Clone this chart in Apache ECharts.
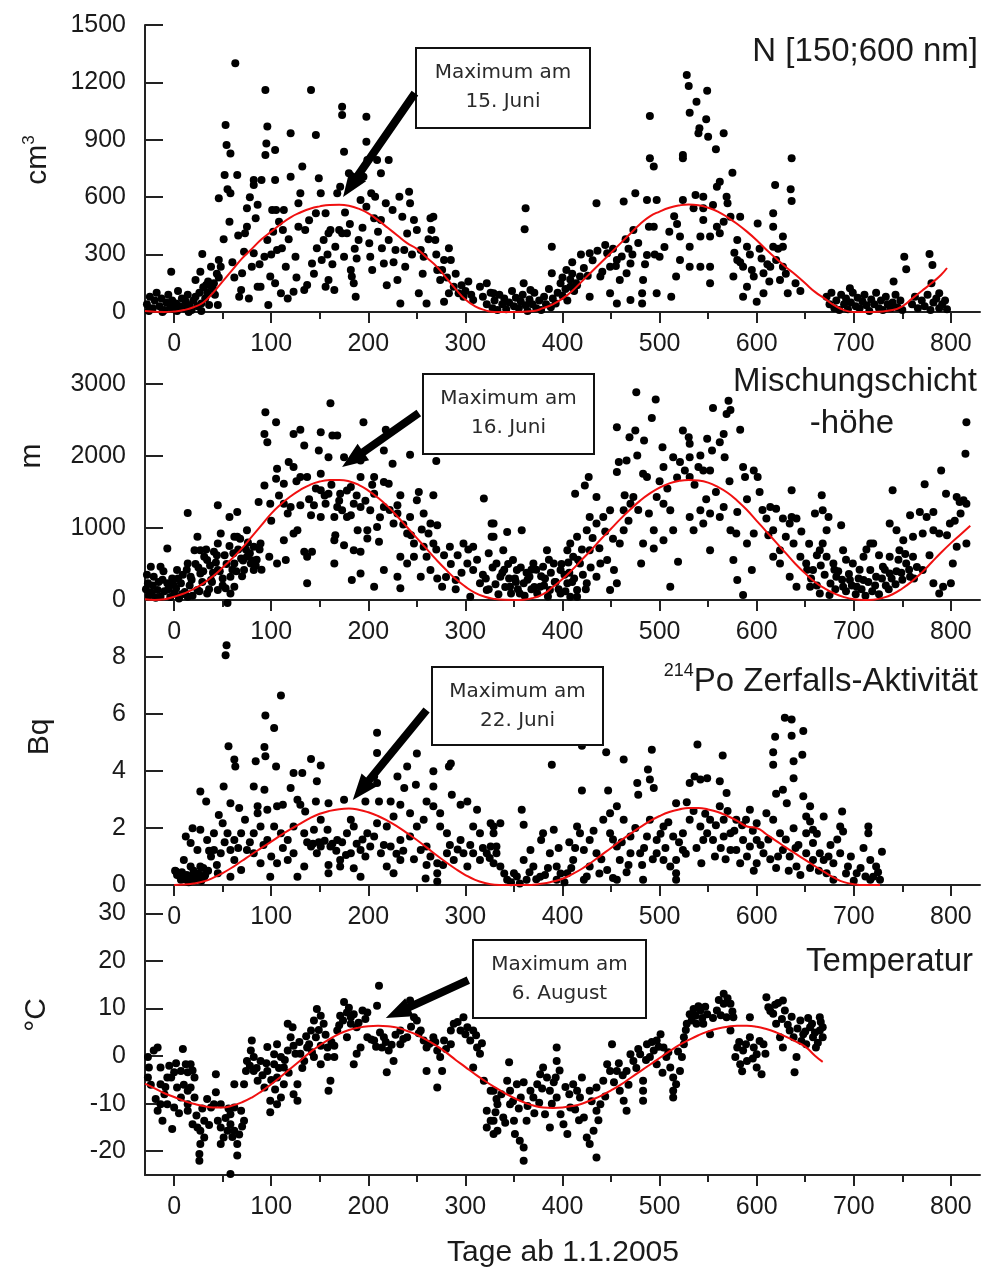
<!DOCTYPE html>
<html><head><meta charset="utf-8">
<script src="https://cdn.jsdelivr.net/npm/echarts@6/dist/echarts.min.js"></script>
<style>html,body{margin:0;padding:0;background:#fff}#c{width:989px;height:1271px}</style>
</head><body><div id="c"></div>
<script>
// ---------- tick labels ----------
const xTicks = [0,100,200,300,400,500,600,700,800];
const xMinorTicks = [50,150,250,350,450,550,650,750];
const p1YTicks = [0,300,600,900,1200,1500];
const p2YTicks = [0,1000,2000,3000];
const p3YTicks = [0,2,4,6,8];
const p4YTicks = [-20,-10,0,10,20,30];

// ---------- panel titles / annotations ----------
const panelTitles = ['N [150;600 nm]', 'Mischungschicht', '-höhe', '{s|214}Po Zerfalls-Aktivität', 'Temperatur'];
const yNames = ['cm{s|3}', 'm', 'Bq', '°C'];
const xName = 'Tage ab 1.1.2005';
const boxLines = [['Maximum am','15. Juni'],['Maximum am','16. Juni'],['Maximum am','22. Juni'],['Maximum am','6. August']];
// arrows in data coordinates: [tail, tip]
const arrows = [[[248,1144],[174,601]],[[252,2597],[173,1847]],[[260,6.14],[184,2.98]],[[303,16.0],[218,8.0]]];

// ---------- panel 1 : N [150;600 nm] (cm^-3) ----------
const p1Points = [
[-28,40],[-25,80],[-22,20],[-20,60],[-18,100],[-15,30],[-13,70],[-10,10],[-8,50],[-6,90],[-4,25],[-2,60],[0,15],[2,45],[4,110],[6,30],[8,70],[10,20],[12,55],[14,90],[16,35],[18,10],[20,60],[22,80],[24,30],[26,100],[28,45],[30,130],[32,70],[35,160],[-26,5],[-12,0],[3,5],[15,0],[28,5],[34,100],[37,140],[40,120],[42,90],[44,200],[46,180],
[-3,211],[29,303],[27,211],[22,167],[38,237],[33,141],[41,150],[36,37],[45,37],[48,237],[46,594],[53,977],[54,873],[58,829],[52,716],[55,641],[58,620],[57,472],[51,380],[46,272],[63,1300],[65,716],[75,542],[75,446],[73,411],[72,315],[70,202],[69,115],[67,80],[77,71],[82,690],[82,664],[84,490],[82,307],[80,237],[86,132],[90,690],[94,1160],[96,969],[95,881],[94,820],[104,847],[104,690],[96,376],[93,289],[99,185],[97,37],[89,132],[101,533],[105,533],[108,472],[106,324],[104,150],[110,98],[113,533],[112,429],[111,333],[115,237],[117,71],[120,934],[120,707],[123,106],[125,289],[128,446],[128,568],[130,620],[132,760],[134,115],[135,429],[137,141],[141,1160],[142,254],[146,925],[146,516],[147,333],[149,699],[151,620],[152,272],[154,376],[156,516],[159,411],[156,132],[159,167],[161,429],[165,115],[166,341],[168,620],[170,429],[173,1073],[173,1030],[175,838],[171,655],[173,411],[175,289],[178,411],[180,725],[182,219],[183,185],[185,150],[187,80],[188,280],[190,376],[192,585],[195,707],[198,1021],[198,890],[199,794],[198,550],[201,359],[202,289],[204,219],[206,490],[207,603],[209,794],[213,725],[213,481],[214,333],[216,254],[218,568],[221,794],[221,376],[225,533],[228,324],[230,167],[232,603],[233,45],[235,498],[237,324],[238,237],[242,629],[243,568],[247,481],[250,429],[252,98],[254,324],[257,289],[260,45],[264,490],[265,429],[267,498],[269,376],[271,219],[274,167],[278,272],[283,333],[285,272],[278,54],[283,98],[288,132],[293,98],[298,80],[303,159],[308,63],[315,132],[322,150],[329,98],
[60,260],[62,180],[66,400],[78,600],[86,560],[88,250],[100,300],[102,420],[118,380],[126,180],[139,480],[144,200],[158,300],[163,250],[176,520],[181,460],[186,330],[194,440],[203,620],[210,420],[219,140],[226,260],[240,410],[245,300],[256,200],[262,380],[270,300],[276,220],[281,180],[290,200],[296,140],[300,110],[306,90],
[318,80],[322,40],[326,100],[328,20],[330,60],[333,10],[335,90],[338,40],[340,70],[342,15],[345,50],[348,110],[350,30],[352,75],[355,20],[357,55],[359,90],[362,35],[364,5],[366,65],[369,40],[371,100],[373,20],[376,60],[378,10],[381,80],[383,40],[386,120],[388,25],[390,70],[393,45],[395,100],[398,150],[400,85],[403,120],[405,60],[408,170],[410,200],[412,110],[415,140],
[400,180],[404,220],[410,260],[414,150],[419,300],[422,230],[426,190],[431,270],[436,320],[441,210],[444,350],[452,330],[455,240],[461,290],[465,380],[468,330],[472,300],[478,360],[485,250],[495,300],[505,340],[510,420],[515,500],[518,460],
[362,542],[361,432],[389,341],[389,202],[360,150],[367,115],[435,568],[463,577],[475,620],[490,1024],[490,803],[494,760],[487,585],[497,585],[489,446],[494,446],[473,429],[487,298],[500,289],[524,585],[528,1239],[530,1181],[549,1157],[538,1099],[531,1042],[548,1007],[541,960],[540,934],[550,916],[566,934],[558,850],[524,821],[524,803],[575,728],[562,681],[559,655],[537,612],[545,603],[535,542],[545,542],[555,559],[569,603],[570,568],[559,446],[566,472],[545,481],[542,394],[552,394],[562,411],[573,498],[583,498],[580,376],[590,341],[580,272],[586,237],[576,185],[590,132],[597,185],[586,80],[600,54],[607,98],[601,463],[617,516],[619,664],[617,446],[617,341],[627,394],[627,341],[636,803],[635,641],[636,580],[620,272],[627,237],[624,167],[632,98],[614,237],[607,202],[521,394],[521,272],[517,185],[531,341],[531,237],[542,237],[552,237],[552,150],[512,80],[497,98],[482,98],[482,45],[483,167],[466,202],[470,254],[456,272],[446,307],[428,307],[449,237],[459,167],[439,185],[418,185],[408,132],[428,80],[449,98],[456,45],[470,63],
[577,310],[583,260],[593,300],[595,220],[603,330],[605,280],[611,250],[613,160],[622,330],[630,200],[640,150],[645,110],
[672,80],[675,40],[677,100],[680,20],[682,60],[685,10],[687,90],[690,40],[692,70],[694,15],[697,50],[699,100],[702,30],[704,75],[706,20],[709,55],[711,90],[713,35],[716,5],[718,65],[721,40],[723,100],[726,20],[728,60],[730,10],[733,80],[735,40],[738,20],[740,50],[743,90],[745,25],[748,60],[750,10],[760,40],[763,80],[766,20],[770,60],[773,30],[776,90],[779,10],[782,50],[785,70],[788,20],[791,40],[794,60],[796,15],
[696,124],[752,289],[754,223],[741,159],[778,303],[781,246],[780,150],[788,98]
];
const p1Fit = [[-30,5],[-10,0],[0,3],[10,10],[20,25],[30,50],[40,100],[50,160],[60,220],[70,280],[80,330],[90,380],[100,420],[110,460],[120,495],[130,520],[140,540],[150,552],[160,559],[170,560],[180,555],[190,540],[200,515],[210,480],[220,440],[230,400],[240,360],[250,330],[260,285],[270,240],[280,180],[290,120],[300,65],[310,30],[320,10],[330,0],[350,0],[370,5],[380,20],[390,40],[400,70],[410,110],[420,160],[430,210],[440,260],[450,310],[460,360],[470,410],[480,460],[490,500],[500,525],[510,545],[520,557],[530,562],[540,558],[550,545],[560,525],[570,495],[580,460],[590,420],[600,375],[610,325],[620,280],[630,235],[640,195],[650,150],[660,105],[670,70],[680,35],[690,10],[700,0],[720,0],[740,10],[750,30],[760,70],[770,110],[780,150],[790,195],[796,230]];

// ---------- panel 2 : Mischungschichthöhe (m) ----------
const p2Points = [
[94,2607],[105,2469],[93,2307],[96,2192],[161,2732],[195,2469],[130,2363],[123,2307],[151,2330],[163,2284],[168,2284],[218,2363],[134,2146],[149,2077],[159,1984],[175,1984],[192,1938],[216,2077],[225,1892],[243,2017],[270,1929],[118,1915],[123,1846],[106,1823],[105,1684],[113,1615],[93,1592],[130,1708],[137,1708],[151,1754],[151,1523],[159,1477],[171,1477],[182,1569],[192,1708],[206,1708],[216,1638],[221,1615],[206,1477],[233,1454],[252,1500],[267,1454],[250,1385],[230,1315],[319,1408],[87,1362],[99,1338],[113,1338],[120,1292],[130,1315],[144,1315],[156,1338],[168,1292],[173,1246],[185,1338],[192,1292],[202,1246],[216,1292],[230,1200],[243,1154],[257,1200],[264,1061],[271,1038],[262,923],[267,785],[284,738],[298,785],[308,738],[327,1061],[327,877],[257,738],[247,785],[240,923],[226,1061],[209,1015],[199,969],[189,969],[178,1154],[165,1154],[151,1154],[141,1177],[165,831],[166,900],[175,761],[185,692],[192,669],[199,854],[211,808],[233,600],[240,508],[247,600],[254,323],[264,415],[271,300],[276,185],[290,277],[302,508],[308,415],[315,231],[322,138],[305,46],[230,323],[233,162],[216,415],[206,185],[192,369],[183,277],[165,508],[137,231],[134,669],[142,669],[123,923],[127,969],[113,831],[106,508],[115,554],[98,600],[89,785],[82,738],[75,600],[69,577],[79,508],[72,415],[82,415],[62,508],[58,323],[53,162],[55,-40],[65,1223],[57,1154],[45,1315],[75,969],[62,877],[65,877],[48,923],[45,785],[41,669],[34,554],[24,877],[21,692],[27,692],[14,1209],[-7,715],[-14,462],[-24,462],[-27,231],[-17,138],[-7,231],[3,415],[14,508],[17,323],[7,231],[27,369],[38,277],[45,415],[45,138],[34,92],[24,138],[14,46],[0,92],[-14,46],[-24,92],[-21,323],[62,185],[58,92],[137,600],[182,1177],
[-29,150],[-26,60],[-22,200],[-19,30],[-12,280],[-10,120],[-4,40],[-2,300],[2,160],[5,20],[9,350],[11,110],[16,200],[19,60],[25,450],[29,250],[31,600],[36,150],[40,380],[43,520],[50,300],[52,620],[60,420],[66,700],[70,330],[76,800],[85,560],[90,420],
[-28,350],[-23,100],[-16,250],[-11,400],[-6,150],[-1,220],[4,300],[8,80],[13,420],[18,280],[22,500],[26,120],[30,400],[33,700],[37,480],[39,250],[44,620],[47,400],[50,200],[54,500],[57,750],[61,650],[64,400],[68,850],[71,550],[74,700],[78,650],[81,550],[84,480],[88,700],
[100,1100],[108,1450],[117,1200],[126,1650],[139,1400],[146,1550],[155,1450],[162,1600],[170,1380],[178,1520],[188,1450],[197,1380],[204,1600],[212,1150],[222,1250],[236,1050],[244,900],[255,980],[260,600],[270,700],[278,620],[285,500],[292,620],[296,380],[303,700],[312,560],[318,350],[324,650],[280,320],[290,150],
[321,300],[324,150],[328,450],[331,220],[334,80],[338,380],[341,180],[344,500],[347,90],[351,300],[354,150],[357,450],[361,60],[364,280],[368,420],[371,180],[374,90],[378,330],[381,200],[385,50],[388,380],[392,250],[396,150],[399,500],[403,120],[407,380],[410,250],[416,560],[421,350],[424,150],[429,450],
[476,2884],[496,2783],[492,2529],[456,2400],[475,2353],[469,2261],[484,2215],[503,2123],[524,2353],[530,2261],[549,2238],[555,2667],[571,2769],[573,2640],[569,2584],[583,2363],[566,2307],[562,2192],[554,2077],[567,1984],[531,2169],[514,1984],[521,1915],[531,1984],[542,2007],[526,1800],[545,1800],[540,1846],[504,1846],[483,1754],[477,2007],[466,1938],[458,1915],[456,1777],[487,1708],[531,1708],[552,1800],[586,1846],[597,1800],[601,1708],[588,1708],[603,1500],[636,1523],[667,1454],[740,1523],[773,1606],[790,1800],[816,2469],[815,2031],[795,1477],[806,1431],[809,1362],[816,1338],[799,1061],[782,1223],[768,1223],[758,1177],[737,1061],[744,969],[720,785],[751,831],[761,877],[771,923],[782,969],[788,923],[816,785],[806,738],[802,508],[800,231],[788,92],[782,231],[771,415],[761,600],[754,508],[747,692],[737,600],[730,462],[723,323],[717,415],[710,277],[703,185],[696,277],[689,185],[682,323],[679,508],[672,600],[665,692],[658,415],[651,508],[645,600],[638,785],[641,1131],[620,1269],[614,1292],[610,1131],[627,1131],[668,1246],[660,1200],[674,1154],[687,1038],[672,969],[634,1061],[617,969],[624,692],[617,600],[624,508],[634,323],[641,185],[655,185],[665,92],[675,69],[597,923],[590,785],[579,923],[573,969],[562,1154],[552,1200],[542,1246],[531,1154],[545,1061],[566,1292],[580,1223],[576,554],[580,277],[586,69],[595,415],[552,692],[535,969],[519,531],[511,185],[514,969],[504,831],[494,715],[494,969],[483,785],[481,508],[489,1200],[497,1431],[504,1338],[511,1246],[470,1338],[463,1246],[463,969],[459,785],[473,1431],[464,1454],[449,1246],[442,1154],[435,1061],[435,1431],[427,1708],[423,1592],[413,1477],[428,1154],[425,969],[415,877],[408,785],[405,692],[411,600],[418,508],[428,692],[439,508],[446,554],[453,415],[456,231],[449,138],[435,323],[425,231],[415,138],[405,231],[398,415],[391,508],[384,692],[380,462],[370,508],[366,323],[360,231],[353,415],[349,554],[339,692],[358,969],[343,946],[329,1061],[329,877],[332,508],[336,323],[346,185],[356,92],[377,185],[387,138],[398,92],[408,46],[415,46],[737,369],[758,323],[792,185],[636,1154],[668,785],[689,692],[699,508],[710,600],[717,785],[775,1154],[813,1385],
[340,420],[345,300],[352,250],[363,380],[368,150],[373,420],[382,300],[386,560],[393,250],[402,350],[406,520],[412,300],[420,700],[431,860],[438,720],[444,950],[452,850],[468,1100],[478,1250],[500,1650],[508,1550],[518,1700],[536,1600],[548,1400],[558,1500],[572,1650],[590,1400],[606,1250],[612,900],[630,880],[646,950],[654,780],[662,620],[680,420],[692,560],[706,420],[713,700],[726,620],[733,200],[744,400],[750,280],[765,460],[778,620],[796,900],[804,1100],[810,1200],
[652,420],[656,300],[662,200],[666,480],[670,350],[676,230],[681,150],[684,400],[688,280],[692,120],[695,360],[698,200],[702,80],[705,300],[708,150],[712,60],[715,250],[719,120],[722,200],[726,80],[729,300],[732,420],[736,150],[739,300],[743,220],[746,560],[749,380],[753,640],[757,420],[762,300]
];
const p2Fit = [[-30,10],[-20,0],[-10,10],[0,46],[10,90],[20,150],[30,230],[40,330],[50,450],[60,580],[70,720],[80,880],[90,1040],[100,1200],[110,1330],[120,1440],[130,1530],[140,1600],[150,1645],[160,1665],[170,1668],[180,1650],[190,1600],[200,1520],[210,1420],[220,1300],[230,1160],[240,1010],[250,860],[260,710],[270,560],[280,420],[290,290],[300,185],[310,100],[320,45],[330,15],[340,2],[350,0],[360,5],[370,30],[380,80],[390,180],[400,290],[410,420],[420,560],[430,700],[440,850],[450,990],[460,1130],[470,1260],[480,1380],[490,1480],[500,1560],[510,1620],[520,1655],[530,1668],[540,1660],[550,1630],[560,1570],[570,1490],[580,1380],[590,1250],[600,1100],[610,950],[620,800],[630,650],[640,500],[650,370],[660,250],[670,160],[680,90],[690,40],[700,10],[710,0],[720,5],[730,30],[740,80],[750,160],[760,260],[770,380],[780,520],[790,660],[800,790],[810,910],[820,1030]];

// ---------- panel 3 : 214Po Zerfalls-Aktivität (Bq) ----------
const p3Points = [
[54,8.41],[53,8.06],[110,6.65],[94,5.95],[103,5.51],[56,4.87],[93,4.84],[209,5.34],[209,4.63],[250,4.61],[283,4.16],[285,4.26],[62,4.4],[63,4.16],[84,4.34],[94,4.52],[105,4.16],[141,4.42],[151,4.19],[147,3.64],[123,3.93],[132,3.93],[230,3.81],[240,4.16],[267,3.99],[209,3.58],[206,3.81],[249,3.52],[267,3.46],[237,3.4],[286,3.17],[27,3.28],[33,2.93],[51,3.46],[58,2.87],[67,2.7],[82,3.46],[93,3.34],[86,2.76],[46,2.46],[50,2.17],[73,2.29],[86,2.52],[89,2.05],[96,2.64],[106,2.76],[112,2.82],[120,3.4],[127,2.99],[130,2.82],[135,2.58],[146,2.93],[159,2.87],[175,2.99],[197,2.93],[211,2.93],[223,2.93],[233,2.82],[243,2.52],[260,2.93],[267,2.76],[274,2.52],[295,2.82],[302,2.93],[312,2.64],[257,2.29],[250,2.05],[274,2.05],[281,1.82],[295,1.58],[308,2.05],[315,1.82],[326,2.17],[329,1.82],[226,2.4],[219,2.05],[209,2.17],[199,1.82],[182,2.29],[185,2.05],[178,1.82],[168,1.58],[158,1.94],[151,2.29],[144,1.94],[134,1.82],[123,2.05],[117,1.58],[110,1.82],[103,2.05],[96,1.58],[82,1.82],[69,1.82],[62,1.58],[55,1.82],[41,1.82],[34,1.58],[27,1.94],[19,1.99],[12,1.7],[17,1.47],[24,1.23],[10,0.88],[17,0.65],[27,0.65],[38,1.0],[41,1.23],[48,1.11],[58,1.23],[62,0.88],[69,0.53],[58,0.29],[45,0.41],[31,0.29],[21,0.18],[10,0.29],[3,0.35],[2,0.47],[7,0.18],[75,1.23],[82,1.11],[89,0.76],[99,0.29],[106,0.76],[117,0.88],[123,1.11],[127,0.29],[134,0.65],[141,1.35],[147,1.11],[151,1.35],[161,1.35],[159,0.7],[159,0.41],[171,0.88],[171,0.65],[182,1.11],[185,0.59],[192,0.29],[192,1.23],[202,1.35],[206,1.7],[213,1.11],[219,0.65],[226,0.41],[233,0.88],[223,1.35],[233,1.58],[243,1.7],[254,1.23],[260,1.35],[260,0.7],[259,0.23],[271,0.41],[271,0.76],[281,1.11],[288,0.88],[298,1.11],[302,0.65],[308,1.11],[315,0.88],[322,1.11],[332,1.35],[329,0.76],[271,0.12],
[1,0.5],[4,0.4],[6,0.3],[8,0.45],[11,0.2],[13,0.35],[15,0.1],[18,0.3],[20,0.5],[23,0.25],[25,0.4],[28,0.15],[30,0.6],[32,0.35],[35,0.5],
[137,1.5],[143,1.45],[149,1.5],[155,1.55],[163,1.45],[167,1.2],[173,1.5],[177,1.05],[188,1.45],[194,1.6],[197,1.0],[216,1.4],[229,1.1],[236,1.2],[247,0.9],[264,1.0],[277,0.7],[284,1.4],[292,1.25],[305,1.4],[318,1.3],[325,0.95],[112,1.3],[100,1.0],[92,1.4],[78,1.5],[66,1.3],[52,1.5],[36,1.2],[44,0.7],
[389,4.22],[420,4.89],[420,3.32],[445,4.66],[463,4.4],[447,3.32],[492,4.75],[488,4.05],[490,3.7],[477,3.58],[494,3.4],[478,3.17],[539,4.93],[565,4.54],[531,3.58],[536,3.81],[542,3.7],[549,3.75],[562,3.64],[569,3.23],[629,5.87],[636,5.81],[619,5.2],[636,5.24],[648,5.4],[617,4.66],[617,4.22],[647,4.57],[638,4.34],[638,3.75],[627,3.34],[620,3.2],[631,2.87],[648,3.11],[655,2.76],[651,2.4],[655,2.23],[638,1.99],[651,1.82],[658,1.47],[665,1.11],[688,2.58],[686,2.05],[689,1.88],[715,2.05],[715,1.82],[729,1.17],[717,0.88],[723,0.65],[720,0.29],[727,0.18],[717,0.18],[703,0.41],[694,0.65],[686,1.11],[679,0.76],[672,0.41],[679,0.18],[669,0.88],[658,0.88],[651,1.11],[641,0.65],[645,0.35],[634,1.0],[627,1.23],[624,1.82],[617,2.29],[610,2.52],[600,2.17],[593,2.64],[589,2.29],[600,1.58],[607,1.11],[600,0.76],[593,1.35],[586,1.58],[579,1.23],[583,0.76],[573,1.23],[573,1.82],[566,2.29],[562,2.76],[552,2.29],[549,1.82],[555,1.58],[545,1.58],[542,2.05],[543,0.76],[531,2.29],[524,1.82],[524,1.23],[517,0.88],[517,0.41],[514,1.7],[504,2.05],[497,1.58],[490,2.29],[487,1.7],[480,1.11],[482,0.7],[497,1.11],[504,0.88],[511,0.65],[470,1.7],[470,1.11],[463,2.29],[456,2.76],[449,2.52],[442,2.29],[449,1.82],[456,1.35],[459,0.88],[446,0.53],[435,1.11],[428,0.65],[422,1.23],[418,1.82],[415,2.05],[428,1.58],[411,0.88],[405,0.41],[394,0.65],[387,1.11],[380,1.82],[378,1.58],[391,1.94],[367,1.23],[360,0.88],[360,2.11],[358,2.64],[370,0.65],[377,0.29],[350,0.41],[343,0.18],[336,0.65],[332,1.11],[329,2.05],[336,2.17],[326,1.35],[363,0.18],[394,0.18],[422,0.18],[456,0.18],[483,0.18],[517,0.18],[669,2.4],[658,1.94],[517,2.87],[566,1.7],[579,2.29],
[340,0.4],[347,0.1],[353,0.3],[356,0.05],[366,0.45],[373,0.2],[382,0.35],[398,0.4],[402,0.1],[409,0.6],[425,0.3],[438,0.4],[452,0.25],[466,0.45],[700,0.15],[707,0.6],[712,0.3],[725,0.45],
[506,1.3],[520,1.5],[528,2.9],[535,2.6],[547,2.5],[558,2.1],[570,2.6],[577,1.9],[585,2.1],[596,1.9],[604,1.4],[612,1.6],[614,0.9],[622,1.0],[630,1.6],[643,1.4],[662,1.8],[676,1.4],[683,1.6],[697,1.0],[710,1.3],
[385,0.6],[396,1.3],[407,1.5],[413,1.3],[432,1.9],[440,0.9],[452,1.6],[461,1.5],[468,0.7],[475,2.0],[484,1.3],[493,0.9],[501,1.8],[509,2.2],[527,1.1],[538,1.3],[557,1.0],[563,1.3],[568,0.9],[590,1.0],[597,0.5],[620,0.6],[633,0.5],[640,1.3],[655,0.6],[664,0.5],[674,1.0],[692,0.4]
];
const p3Fit = [[0,0],[10,0.02],[20,0.05],[30,0.12],[40,0.25],[50,0.42],[60,0.62],[70,0.85],[80,1.08],[90,1.3],[100,1.52],[110,1.75],[120,1.96],[130,2.15],[140,2.35],[150,2.5],[160,2.6],[170,2.66],[180,2.68],[190,2.64],[200,2.55],[210,2.42],[220,2.25],[230,2.05],[240,1.82],[250,1.58],[260,1.32],[270,1.05],[280,0.8],[290,0.56],[300,0.35],[310,0.18],[320,0.07],[330,0.01],[340,0],[360,0],[380,0.05],[390,0.12],[400,0.22],[410,0.38],[420,0.57],[430,0.8],[440,1.05],[450,1.3],[460,1.56],[470,1.8],[480,2.03],[490,2.24],[500,2.42],[510,2.56],[520,2.65],[530,2.7],[540,2.7],[550,2.65],[560,2.56],[570,2.42],[580,2.25],[590,2.05],[600,2.0],[610,1.78],[620,1.55],[630,1.32],[640,1.1],[650,0.88],[660,0.66],[670,0.45],[680,0.25],[690,0.1],[700,0.03],[710,0],[727,0]];

// ---------- panel 4 : Temperatur (°C) ----------
const p4Points = [
[211,14.8],[209,10.6],[175,11.4],[178,9.2],[171,8.5],[182,8.2],[199,9.2],[197,7.8],[147,9.9],[151,8.5],[144,7.5],[154,6.8],[141,5.4],[146,4.0],[151,2.2],[158,1.8],[165,2.2],[168,5.4],[182,6.8],[188,6.1],[188,0.5],[185,-1.7],[192,1.8],[199,4.0],[206,3.3],[214,1.8],[216,4.0],[221,1.2],[219,-3.4],[226,-1.0],[233,2.5],[240,4.0],[233,5.4],[243,11.7],[247,8.2],[250,7.5],[254,5.4],[257,3.3],[260,1.8],[267,4.0],[271,1.2],[274,-0.2],[260,-3.1],[271,-6.6],[276,-3.1],[278,3.3],[285,5.4],[288,6.8],[298,8.2],[302,6.1],[308,5.4],[305,3.3],[312,1.8],[315,0.5],[308,-2.4],[319,-5.2],[329,-7.3],[332,-9.0],[322,-11.5],[326,-13.6],[322,-15.0],[329,-16.4],[285,2.5],[117,6.8],[122,6.1],[120,4.0],[123,2.2],[130,0.5],[134,-1.0],[117,1.2],[110,-0.2],[103,-1.7],[96,-3.1],[106,-4.5],[113,-5.9],[127,-5.9],[123,-8.0],[127,-9.4],[110,-8.7],[106,-10.1],[99,-9.4],[99,-11.8],[93,-6.6],[86,-5.2],[82,-3.1],[89,-1.0],[82,-0.2],[75,-1.0],[79,1.2],[80,3.3],[74,-3.1],[72,-5.9],[62,-5.9],[144,-0.2],[151,-1.7],[158,-0.2],[161,-5.2],[159,-7.3],[137,1.8],[165,-0.2],[178,4.0],[96,1.9],[106,2.5],[103,0.4],[113,-2.4],
[-21,1.2],[-17,1.8],[-27,-0.2],[-26,-2.4],[-27,-4.5],[-14,-2.4],[-7,-4.5],[-14,-5.9],[-10,-8.0],[-14,-10.1],[-7,-10.1],[-12,-13.6],[-2,-15.3],[0,-10.8],[7,-8.7],[14,-7.3],[3,-6.6],[-3,-4.5],[0,-3.4],[7,-3.1],[9,1.5],[12,-1.7],[17,-1.7],[14,-3.4],[21,-4.5],[17,-6.6],[21,-8.7],[14,-11.5],[14,-10.1],[19,-14.3],[24,-15.0],[27,-15.7],[31,-17.1],[27,-18.5],[26,-20.6],[26,-22.0],[31,-13.6],[38,-10.8],[34,-9.0],[43,-7.6],[43,-3.8],[41,-10.1],[45,-13.6],[48,-15.0],[51,-17.1],[48,-18.5],[55,-15.7],[58,-14.3],[62,-15.7],[65,-18.5],[65,-20.9],[58,-24.8],[72,-13.6],[69,-11.5],[58,-12.2],[62,-10.8],[48,-10.1],
[-24,-6.0],[-19,-9.0],[-17,-11.5],[-9,-6.5],[-5,-2.0],[2,-1.5],[5,-12.0],[10,-6.0],[19,-3.0],[23,-12.5],[29,-11.0],[36,-14.5],[53,-13.0],[56,-11.0],[60,-17.0],[67,-16.5],[70,-14.8],[78,-2.0],[85,-2.5],[91,-4.0],[95,-1.5],[100,-5.0],[104,-7.0],[108,-2.5],[114,-0.8],[118,-3.5],[125,0.5],[129,3.0],[132,-2.5],[136,4.2],[139,2.5],[142,0.8],[149,5.5],[156,4.5],[162,3.0],[170,6.5],[174,7.5],[180,10.2],[185,8.8],[190,7.0],[194,9.6],[203,3.5],[208,2.0],[212,5.0],[218,3.0],[224,2.4],[228,4.5],[236,3.6],[244,6.2],[252,4.8],[263,2.6],[269,3.0],[280,1.5],[292,7.2],[295,5.4],[300,4.6],[311,4.4],[317,2.7],
[326,-7.3],[333,-10.1],[329,-13.6],[333,-15.7],[339,-12.9],[346,-10.1],[346,-7.3],[343,-5.2],[345,-1.3],[353,-5.9],[360,-5.5],[357,-8.7],[350,-13.6],[351,-16.4],[356,-17.8],[360,-19.2],[360,-22.0],[363,-13.6],[370,-8.7],[367,-7.3],[374,-5.9],[377,-3.8],[380,-2.4],[384,-4.5],[387,-7.3],[382,-12.2],[387,-15.0],[394,1.8],[394,-1.0],[393,-4.5],[394,-8.7],[398,-12.2],[401,-14.3],[405,-16.4],[408,-10.8],[411,-5.9],[415,-7.3],[418,-8.7],[422,-12.9],[425,-17.1],[428,-18.5],[435,-21.3],[432,-15.7],[435,-11.5],[439,-10.1],[435,-6.6],[428,-7.3],[442,-5.2],[446,-1.7],[449,-3.1],[451,2.5],[456,-3.1],[459,-7.3],[463,-9.4],[466,-11.5],[466,-3.1],[470,0.4],[473,-1.0],[480,0.4],[483,-5.2],[483,-7.3],[483,-9.4],[487,2.5],[490,-0.2],[494,1.2],[497,3.3],[501,4.6],[504,1.8],[497,-1.7],[507,-0.2],[511,-2.4],[514,-4.5],[514,-7.3],[514,-8.7],[517,-5.9],[521,-3.1],[523,-0.2],[525,2.5],[525,4.0],[528,6.8],[531,8.8],[535,9.9],[542,9.6],[549,8.8],[545,6.8],[538,6.8],[552,4.6],[559,9.6],[566,13.1],[566,11.0],[573,11.0],[569,8.2],[576,8.2],[573,5.4],[580,1.8],[578,-0.2],[586,1.2],[583,-1.7],[590,-1.0],[593,8.2],[593,4.0],[597,1.8],[600,0.4],[600,-2.4],[607,2.5],[605,-3.8],[610,12.4],[612,10.3],[617,8.9],[620,6.8],[627,11.7],[629,9.6],[624,4.0],[627,1.8],[634,5.4],[638,4.0],[641,-0.2],[639,-3.4],[645,7.5],[648,4.6],[651,2.5],[655,6.1],[658,4.0],[661,1.8],[665,8.2],[665,5.4],[668,4.0],[668,6.1],
[331,-11.8],[337,-8.0],[341,-14.0],[349,-9.5],[355,-11.0],[364,-10.5],[371,-12.0],[376,-9.8],[379,-6.8],[389,-10.0],[391,-5.5],[397,-3.0],[403,-6.5],[407,-8.0],[413,-11.2],[417,-13.5],[420,-4.5],[430,-9.5],[437,-13.5],[444,-8.5],[453,-5.5],[458,-1.5],[462,-4.0],[468,-6.0],[476,-2.5],[478,1.5],[486,-0.8],[492,3.0],[499,2.0],[503,-3.5],[509,0.8],[519,1.0],[527,5.5],[533,7.5],[537,8.5],[540,10.5],[544,8.0],[547,10.4],[555,8.0],[561,11.8],[563,8.6],[570,12.2],[575,9.4],[582,3.0],[585,-3.2],[589,2.5],[596,-0.5],[603,3.2],[609,0.5],[614,9.5],[619,10.8],[622,11.2],[626,7.8],[632,6.6],[636,8.3],[642,5.8],[646,3.2],[650,5.2],[653,8.0],[657,6.8],[660,5.0],[663,2.8],[666,7.2]
];
const p4Fit = [[-30,-5.8],[-20,-6.8],[-10,-7.8],[0,-8.6],[10,-9.4],[20,-10.0],[30,-10.5],[40,-10.8],[50,-10.8],[60,-10.4],[70,-9.7],[80,-8.7],[90,-7.4],[100,-5.9],[110,-4.3],[120,-2.6],[130,-0.9],[140,0.8],[150,2.3],[160,3.6],[170,4.7],[180,5.5],[190,6.0],[200,6.3],[210,6.4],[220,6.3],[230,6.0],[240,5.3],[250,4.5],[260,3.4],[270,2.2],[280,0.8],[290,-0.8],[300,-2.3],[310,-3.8],[320,-5.2],[330,-6.5],[340,-7.7],[350,-8.8],[360,-9.7],[370,-10.4],[380,-10.8],[390,-10.9],[400,-10.8],[410,-10.5],[420,-10.0],[430,-9.2],[440,-8.3],[450,-7.2],[460,-6.0],[470,-4.6],[480,-3.2],[490,-1.8],[500,-0.4],[510,1.0],[520,2.3],[530,3.4],[540,4.4],[550,5.2],[560,5.8],[570,6.2],[580,6.4],[590,6.4],[600,6.2],[610,5.7],[620,5.0],[630,4.1],[640,3.1],[650,2.0],[660,0.1],[668,-1.2]];

// ---------- layout ----------
const FONT = 'Liberation Sans, Arial, sans-serif';
const AX = '#222';
const grids = [
  {left:145, top:25, width:835, height:287},
  {left:145, top:312, width:835, height:288},
  {left:145, top:600, width:835, height:285},
  {left:145, top:885, width:835, height:290}
];
const yDefs = [
  {min:0, max:1500, ticks:p1YTicks},
  {min:0, max:4000, ticks:p2YTicks},
  {min:0, max:10, ticks:p3YTicks},
  {min:-25, max:36, ticks:p4YTicks}
];
const pts = [p1Points, p2Points, p3Points, p4Points];
const fits = [p1Fit, p2Fit, p3Fit, p4Fit];
const plain = v => String(v);

const xAxes = [], yAxes = [], series = [];
grids.forEach((g, i) => {
  xAxes.push({gridIndex:i, type:'value', min:-30, max:830, position:'bottom',
    axisLine:{show:true, onZero:false, lineStyle:{color:AX, width:2}},
    axisTick:{show:true, inside:false, length:11, customValues:xTicks, lineStyle:{color:AX, width:2}},
    axisLabel:{show:true, customValues:xTicks, formatter:plain, margin:20, fontSize:25, fontFamily:FONT, color:'#1a1a1a'},
    splitLine:{show:false}, minorTick:{show:false}});
  xAxes.push({gridIndex:i, type:'value', min:-30, max:830, position:'bottom',
    axisLine:{show:false, onZero:false}, axisLabel:{show:false}, splitLine:{show:false},
    axisTick:{show:true, inside:false, length:7, customValues:xMinorTicks, lineStyle:{color:AX, width:2}}});
  const d = yDefs[i];
  yAxes.push({gridIndex:i, type:'value', min:d.min, max:d.max, position:'left',
    axisLine:{show:true, onZero:false, lineStyle:{color:AX, width:2}},
    axisTick:{show:true, inside:true, length:18, customValues:d.ticks, lineStyle:{color:AX, width:2}},
    axisLabel:{show:true, customValues:d.ticks, formatter:plain, margin:19, fontSize:25, fontFamily:FONT, color:'#1a1a1a'},
    splitLine:{show:false}});
  series.push({type:'scatter', xAxisIndex:2*i, yAxisIndex:i, data:pts[i], symbol:'circle', symbolSize:8,
    itemStyle:{color:'#000', opacity:1}, clip:false, z:2, silent:true});
  series.push({type:'line', xAxisIndex:2*i, yAxisIndex:i, data:fits[i], showSymbol:false, smooth:true,
    lineStyle:{color:'#f01010', width:2}, z:3, silent:true});
});

const chart = echarts.init(document.getElementById('c'), null, {renderer:'canvas', width:989, height:1271});
chart.setOption({
  animation:false, backgroundColor:'#fff',
  grid: grids.map(g => Object.assign({outerBoundsMode:'none', containLabel:false}, g)),
  xAxis: xAxes, yAxis: yAxes, series: series
});

// ---------- annotations ----------
const gfx = [];
function txt(x, y, text, size, align, extra) {
  return Object.assign({type:'text', x:x, y:y, z:100, silent:true,
    style:Object.assign({text:text, fontSize:size, fontFamily:FONT, fill:'#1a1a1a', align:align||'center', verticalAlign:'middle'}, extra||{})});
}
const sup = {s:{fontSize:18, fontFamily:FONT, fill:'#1a1a1a', verticalAlign:'top', lineHeight:18}};
gfx.push(txt(978, 52, panelTitles[0], 33, 'right'));
gfx.push(txt(977, 382, panelTitles[1], 33, 'right'));
gfx.push(txt(852, 424, panelTitles[2], 33, 'center'));
gfx.push(txt(978, 682, panelTitles[3], 33, 'right', {rich:sup, lineHeight:40}));
gfx.push(txt(973, 962, panelTitles[4], 33, 'right'));
gfx.push(txt(563, 1253, xName, 30, 'center'));
const yNamePos = [[38,160],[32,456],[40,737],[37,1015]];
yNames.forEach((n, i) => {
  const t = txt(yNamePos[i][0], yNamePos[i][1], n, 30, 'center', {rich:{s:{fontSize:17, fontFamily:FONT, fill:'#1a1a1a', verticalAlign:'top', lineHeight:17}}, lineHeight:34});
  t.rotation = Math.PI/2;
  gfx.push(t);
});
const boxes = [[416,48,174,80],[423,374,171,80],[432,667,171,78],[473,940,173,78]];
const BOXFONT = 'DejaVu Sans, Verdana, sans-serif';
boxes.forEach((b, i) => {
  gfx.push({type:'rect', z:90, silent:true, shape:{x:b[0], y:b[1], width:b[2], height:b[3]},
    style:{fill:'#fff', stroke:'#111', lineWidth:2}});
  const cx = b[0] + b[2]/2;
  gfx.push(Object.assign(txt(cx, b[1]+25, boxLines[i][0], 20, 'center', {fontFamily:BOXFONT, fill:'#2a2a2a'}), {z:101}));
  gfx.push(Object.assign(txt(cx, b[1]+54, boxLines[i][1], 20, 'center', {fontFamily:BOXFONT, fill:'#2a2a2a'}), {z:101}));
});
arrows.forEach((a, i) => {
  const T = chart.convertToPixel({xAxisIndex:2*i, yAxisIndex:i}, a[0]);
  const P = chart.convertToPixel({xAxisIndex:2*i, yAxisIndex:i}, a[1]);
  const dx = P[0]-T[0], dy = P[1]-T[1], L = Math.hypot(dx, dy);
  const ux = dx/L, uy = dy/L, nx = -uy, ny = ux;
  const w = 4, hw = 10, hl = 26;
  const B = [P[0]-ux*hl, P[1]-uy*hl];
  const poly = [
    [T[0]+nx*w, T[1]+ny*w], [B[0]+nx*w, B[1]+ny*w], [B[0]+nx*hw, B[1]+ny*hw], P,
    [B[0]-nx*hw, B[1]-ny*hw], [B[0]-nx*w, B[1]-ny*w], [T[0]-nx*w, T[1]-ny*w]
  ];
  gfx.push({type:'polygon', z:95, silent:true, shape:{points:poly}, style:{fill:'#000'}});
});
chart.setOption({graphic: gfx});
</script>
</body></html>
